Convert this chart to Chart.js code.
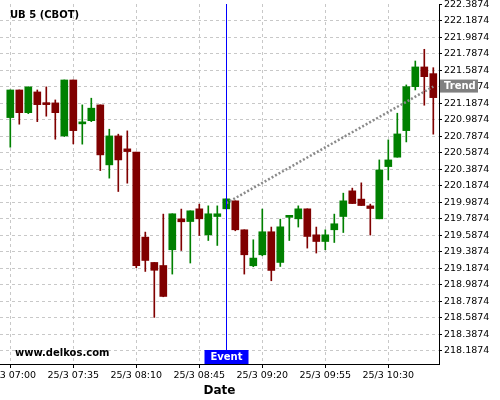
<!DOCTYPE html>
<html>
<head>
<meta charset="utf-8">
<script src="https://cdn.jsdelivr.net/npm/chart.js@4.4.1/dist/chart.umd.min.js"></script>
<style>
  html, body { margin: 0; padding: 0; background: #fff; overflow: hidden; }
  #chart { display: block; }
</style>
</head>
<body>
<canvas id="chart" width="500" height="400"></canvas>
<script>
// 5-minute candles, 25/3
const times = [
  "25/3 07:00", "25/3 07:05", "25/3 07:10", "25/3 07:15", "25/3 07:20", "25/3 07:25", "25/3 07:30", "25/3 07:35",
  "25/3 07:40", "25/3 07:45", "25/3 07:50", "25/3 07:55", "25/3 08:00", "25/3 08:05", "25/3 08:10", "25/3 08:15",
  "25/3 08:20", "25/3 08:25", "25/3 08:30", "25/3 08:35", "25/3 08:40", "25/3 08:45", "25/3 08:50", "25/3 08:55",
  "25/3 09:00", "25/3 09:05", "25/3 09:10", "25/3 09:15", "25/3 09:20", "25/3 09:25", "25/3 09:30", "25/3 09:35",
  "25/3 09:40", "25/3 09:45", "25/3 09:50", "25/3 09:55", "25/3 10:00", "25/3 10:05", "25/3 10:10", "25/3 10:15",
  "25/3 10:20", "25/3 10:25", "25/3 10:30", "25/3 10:35", "25/3 10:40", "25/3 10:45", "25/3 10:50", "25/3 10:55"
];
const opens = [
  221.013, 221.348, 221.073, 221.324, 221.194, 221.191, 220.791, 221.469,
  220.937, 220.976, 221.167, 220.440, 220.791, 220.634, 220.594, 219.564,
  219.257, 219.220, 219.411, 219.786, 219.753, 219.907, 219.592, 219.814,
  219.907, 220.004, 219.653, 219.217, 219.350, 219.629, 219.257, 219.804,
  219.786, 219.907, 219.592, 219.511, 219.653, 219.814, 220.125, 220.025,
  219.943, 219.786, 220.419, 220.533, 220.855, 221.388, 221.627, 221.546
];
const highs = [
  221.348, 221.348, 221.385, 221.348, 221.385, 221.227, 221.469, 221.469,
  221.167, 221.248, 221.167, 220.872, 220.812, 220.852, 220.594, 219.625,
  219.257, 219.843, 219.847, 219.904, 219.883, 219.964, 219.943, 219.943,
  220.028, 220.004, 219.653, 219.532, 219.904, 219.686, 219.782, 219.822,
  219.943, 219.907, 219.686, 219.653, 219.843, 220.097, 220.158, 220.222,
  219.964, 220.500, 220.743, 221.066, 221.409, 221.699, 221.841, 221.618
];
const lows = [
  220.654, 220.933, 221.061, 220.964, 221.030, 220.751, 220.783, 220.694,
  220.691, 220.964, 220.371, 220.279, 220.117, 220.218, 219.193, 219.148,
  218.591, 218.841, 219.116, 219.402, 219.250, 219.584, 219.523, 219.463,
  219.907, 219.641, 219.116, 219.205, 219.338, 219.035, 219.208, 219.523,
  219.686, 219.431, 219.371, 219.411, 219.499, 219.620, 219.971, 219.947,
  219.589, 219.786, 220.258, 220.533, 220.718, 221.348, 221.163, 220.812
];
const closes = [
  221.348, 221.073, 221.385, 221.170, 221.170, 221.073, 221.469, 220.855,
  220.949, 221.127, 220.561, 220.791, 220.500, 220.601, 219.217, 219.281,
  219.162, 218.845, 219.847, 219.750, 219.883, 219.786, 219.847, 219.847,
  220.028, 219.653, 219.350, 219.310, 219.629, 219.160, 219.689, 219.820,
  219.907, 219.572, 219.511, 219.592, 219.726, 220.004, 219.971, 219.947,
  219.911, 220.379, 220.500, 220.815, 221.388, 221.627, 221.509, 221.255
];
const xTickIndex = [0, 7, 14, 21, 28, 35, 42];
const yTicks = [218.1874, 218.3874, 218.5874, 218.7874, 218.9874, 219.1874, 219.3874, 219.5874,
  219.7874, 219.9874, 220.1874, 220.3874, 220.5874, 220.7874, 220.9874, 221.1874,
  221.3874, 221.5874, 221.7874, 221.9874, 222.1874, 222.3874];
const eventIndex = 24;
const trendX = [24, 47];
const trendY = [219.976, 221.389];

const UP = "#008000";
const DOWN = "#800000";
const FONT = "DejaVu Sans";

Chart.defaults.font.family = FONT;

const candleColor = (ctx) => closes[ctx.dataIndex] >= opens[ctx.dataIndex] ? UP : DOWN;

const overlay = {
  id: "overlay",
  afterDraw(chart) {
    const { ctx, chartArea, scales } = chart;
    ctx.save();

    // event marker
    const ex = Math.round(scales.x.getPixelForValue(eventIndex)) + 0.5;
    ctx.strokeStyle = "#0000ff";
    ctx.lineWidth = 1;
    ctx.beginPath();
    ctx.moveTo(ex, chartArea.top);
    ctx.lineTo(ex, chartArea.bottom);
    ctx.stroke();

    ctx.fillStyle = "#0000ff";
    ctx.fillRect(ex - 22, chartArea.bottom - 14, 44, 14);
    ctx.fillStyle = "#fff";
    ctx.font = "bold 10px " + FONT;
    ctx.textAlign = "center";
    ctx.textBaseline = "middle";
    ctx.fillText("Event", ex, chartArea.bottom - 6.5);

    // trend tag on the price axis
    const ty = scales.y.getPixelForValue(trendY[trendY.length - 1]);
    ctx.fillStyle = "#808080";
    ctx.fillRect(chartArea.right + 1, ty - 7, 38, 13);
    ctx.fillStyle = "#fff";
    ctx.textAlign = "left";
    ctx.fillText("Trend", chartArea.right + 5, ty);

    // title + watermark
    ctx.fillStyle = "#000";
    ctx.fillText("UB 5 (CBOT)", 10, 15.5);
    ctx.fillText("www.delkos.com", 15, 353.5);
    ctx.restore();
  }
};

new Chart(document.getElementById("chart"), {
  type: "bar",
  data: {
    datasets: [
      {
        type: "line",
        data: trendX.map((x, i) => ({ x, y: trendY[i] })),
        borderColor: "#8a8a8a",
        borderWidth: 2.5,
        borderDash: [2, 2],
        pointRadius: 0,
        order: 0,
      },
      {
        data: times.map((t, i) => ({ x: i, y: [opens[i], closes[i]] })),
        backgroundColor: candleColor,
        barThickness: 7,
        minBarLength: 2,
        grouped: false,
        borderWidth: 0,
        order: 1,
      },
      {
        data: times.map((t, i) => ({ x: i, y: [lows[i], highs[i]] })),
        backgroundColor: candleColor,
        barThickness: 1,
        grouped: false,
        borderWidth: 0,
        order: 2,
      },
    ],
  },
  options: {
    responsive: false,
    animation: false,
    devicePixelRatio: 1,
    layout: { padding: { left: 0, top: 4, right: 0, bottom: 0 } },
    plugins: { legend: { display: false }, tooltip: { enabled: false } },
    scales: {
      x: {
        type: "linear",
        offset: false,
        bounds: "data",
        min: -1.144,
        max: 47.633,
        afterBuildTicks: (s) => { s.ticks = xTickIndex.map((v) => ({ value: v })); },
        afterFit: (s) => { s.height = 36; s.paddingLeft = 0; s.paddingRight = 0; },
        ticks: {
          autoSkip: false,
          maxRotation: 0,
          padding: 2,
          color: "#000",
          font: { size: 9.5 },
          callback: (v) => times[v],
        },
        grid: { offset: false, color: "#c8c8c8", tickColor: "#000", tickLength: 4 },
        border: { color: "#000", dash: [3, 3] },
        title: {
          display: true,
          text: "Date",
          color: "#000",
          font: { size: 12, weight: "bold" },
          padding: { top: 0, bottom: 2 },
        },
      },
      y: {
        position: "right",
        min: 218.026,
        max: 222.39,
        afterBuildTicks: (s) => { s.ticks = yTicks.map((v) => ({ value: v })); },
        afterFit: (s) => { s.width = 61; s.paddingTop = 0; s.paddingBottom = 0; },
        ticks: {
          padding: 2,
          color: "#000",
          font: { size: 9.5 },
          callback: (v) => v.toFixed(4),
        },
        grid: {
          color: (c) => (c.tick && c.tick.value > 222.3 ? "rgba(0,0,0,0)" : "#c8c8c8"),
          tickColor: "#000",
          tickLength: 3,
        },
        border: { color: "#000", dash: [3, 3] },
      },
    },
  },
  plugins: [overlay],
});
</script>
</body>
</html>
